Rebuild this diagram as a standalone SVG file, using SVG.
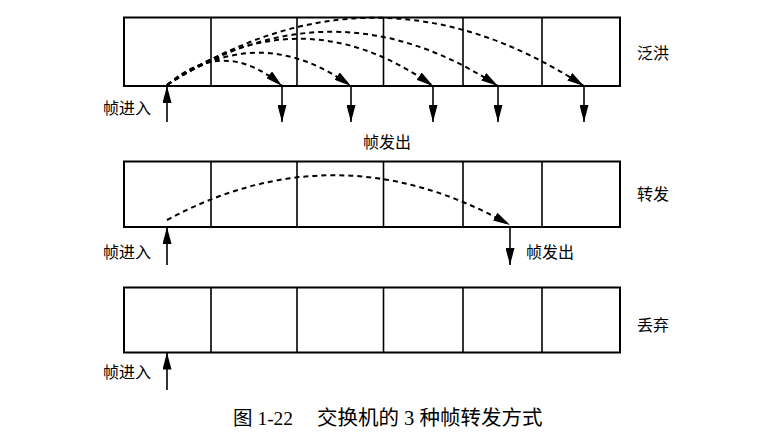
<svg xmlns="http://www.w3.org/2000/svg" width="775" height="435" viewBox="0 0 775 435">
<style>
.box{fill:none;stroke:#000;stroke-width:2}
.div{stroke:#000;stroke-width:1.6}
.lbl{font-family:"Liberation Serif","Noto Sans CJK SC",serif;font-size:16px;fill:#000}
.cap{font-family:"Liberation Serif","Noto Sans CJK SC",serif;font-size:20.5px;fill:#000}
.arc{fill:none;stroke:#000;stroke-width:2;stroke-dasharray:5 4;marker-end:url(#ah)}
.arr{fill:none;stroke:#000;stroke-width:1.6;marker-end:url(#ah)}
</style>
<defs>
<marker id="ah" markerUnits="userSpaceOnUse" viewBox="0 0 17 9" refX="17" refY="4.5" markerWidth="17" markerHeight="9" orient="auto">
<path d="M0,0 L17,4.5 L0,9 Z" fill="#000"/>
</marker>
</defs>
<rect width="775" height="435" fill="#fff"/>

<g id="row-flood">
<rect class="box" x="124" y="17.5" width="496" height="68.5"/>
<line class="div" x1="211" y1="17.5" x2="211" y2="86"/>
<line class="div" x1="297" y1="17.5" x2="297" y2="86"/>
<line class="div" x1="383.5" y1="17.5" x2="383.5" y2="86"/>
<line class="div" x1="463" y1="17.5" x2="463" y2="86"/>
<line class="div" x1="542" y1="17.5" x2="542" y2="86"/>
<text class="lbl" x="637" y="59">泛洪</text>
</g>

<g id="row-forward">
<rect class="box" x="124" y="161.5" width="496" height="65.5"/>
<line class="div" x1="211" y1="161.5" x2="211" y2="227"/>
<line class="div" x1="297" y1="161.5" x2="297" y2="227"/>
<line class="div" x1="383.5" y1="161.5" x2="383.5" y2="227"/>
<line class="div" x1="463" y1="161.5" x2="463" y2="227"/>
<line class="div" x1="542" y1="161.5" x2="542" y2="227"/>
<text class="lbl" x="637" y="200">转发</text>
</g>

<g id="row-drop">
<rect class="box" x="124" y="287.5" width="496" height="65"/>
<line class="div" x1="211" y1="287.5" x2="211" y2="352.5"/>
<line class="div" x1="297" y1="287.5" x2="297" y2="352.5"/>
<line class="div" x1="383.5" y1="287.5" x2="383.5" y2="352.5"/>
<line class="div" x1="463" y1="287.5" x2="463" y2="352.5"/>
<line class="div" x1="542" y1="287.5" x2="542" y2="352.5"/>
<text class="lbl" x="637" y="331">丢弃</text>
</g>

<g id="labels">
<text class="lbl" x="103" y="113.5">帧进入</text>
<text class="lbl" x="363" y="147.5">帧发出</text>
<text class="lbl" x="103" y="257.5">帧进入</text>
<text class="lbl" x="526" y="258">帧发出</text>
<text class="lbl" x="103" y="377.5">帧进入</text>
</g>

<g id="connectors">
<line class="arr" x1="167" y1="122" x2="167" y2="86"/>
<line class="arr" x1="282" y1="86" x2="282" y2="122"/>
<line class="arr" x1="351" y1="86" x2="351" y2="122"/>
<line class="arr" x1="433" y1="86" x2="433" y2="122"/>
<line class="arr" x1="498" y1="86" x2="498" y2="122"/>
<line class="arr" x1="584" y1="86" x2="584" y2="122"/>
<path class="arc" d="M167,85 Q224.5,36 282,86"/>
<path class="arc" d="M167,85 Q259,20 351,86"/>
<path class="arc" d="M167,85 Q300,-8 433,86"/>
<path class="arc" d="M167,85 Q332.5,-22 498,86"/>
<path class="arc" d="M167,85 Q375.5,-50 584,86"/>

<line class="arr" x1="167" y1="265" x2="167" y2="227"/>
<line class="arr" x1="510" y1="227" x2="510" y2="265"/>
<path class="arc" d="M167,220 Q338,128 510,225"/>

<line class="arr" x1="167" y1="390" x2="167" y2="352.5"/>
</g>

<g id="caption">
<text class="cap" x="233" y="425" style="font-size:19.5px">图 1-22</text>
<text class="cap" x="317" y="425">交换机的 3 种帧转发方式</text>
</g>
</svg>
